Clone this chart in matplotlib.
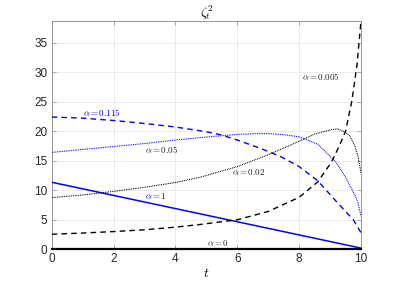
import matplotlib
matplotlib.use("Agg")
import matplotlib.pyplot as plt

# values
t_a0 = [0, 10]
y_a0 = [0, 0]

t_a1 = [0, 2, 4, 6, 8, 10]
y_a1 = [11.35, 9.12, 6.89, 4.66, 2.43, 0.2]

t_a005 = [0, 1, 2, 3, 4, 4.8, 6, 7, 8, 8.6, 9.05, 9.3, 9.5, 9.7, 9.87, 10]
y_a005 = [2.55, 2.75, 3.0, 3.3, 3.75, 4.2, 5.0, 6.4, 8.8, 11.4, 14.8, 17.5, 20.0, 25.0, 31.2, 38.7]

t_a02 = [0, 1, 2, 3, 4, 4.8, 6, 7, 8, 8.5, 9, 9.25, 9.5, 9.65, 9.8, 9.9, 10]
y_a02 = [8.75, 9.2, 9.8, 10.5, 11.3, 12.2, 14.0, 16.0, 18.3, 19.5, 20.2, 20.4, 19.8, 19.1, 17.5, 15.8, 12.9]

t_a05 = [0, 1, 2, 3, 4, 5, 6, 6.75, 7, 7.5, 8, 8.6, 9.2, 9.5, 9.65, 9.8, 9.9, 10]
y_a05 = [16.4, 16.9, 17.4, 17.9, 18.5, 19.0, 19.45, 19.6, 19.6, 19.4, 19.05, 17.8, 14.7, 12.2, 10.7, 9.2, 7.9, 5.6]

t_a115 = [0, 1, 2, 3, 4, 5, 5.45, 6, 6.74, 7.4, 8, 8.6, 9.2, 9.75, 10]
y_a115 = [22.4, 22.2, 21.8, 21.3, 20.7, 19.9, 19.4, 18.5, 17.1, 15.7, 14.0, 11.6, 8.1, 5.0, 2.8]

labels = [r"$\alpha = 0.115$", r"$\alpha = 0.05$", r"$\alpha = 1$",
          r"$\alpha = 0.02$", r"$\alpha = 0$", r"$\alpha = 0.005$"]
label_t = [1.02, 3.0, 3.0, 5.83, 5.02, 8.09]
label_y = [23.1, 16.95, 9.0, 13.15, 1.0, 29.25]
label_c = ["#0000ff", "#222222", "#0000ff", "#222222", "#222222", "#222222"]

BLUE = "#0000ff"


def main() -> None:
    plt.rcParams.update({
        "font.family": "Liberation Sans",
        "mathtext.fontset": "cm",
        "font.size": 8,
    })
    fig = plt.figure(figsize=(3.99, 2.82), dpi=100)
    ax = fig.add_axes([0.1296, 0.116, 0.7752, 0.8106])

    ax.plot(t_a1, y_a1, color=BLUE, lw=1.1, zorder=3)
    ax.plot(t_a115, y_a115, color=BLUE, lw=1.0, ls=(0, (4, 3)), zorder=3)
    ax.plot(t_a05, y_a05, color=BLUE, lw=0.8, ls=(0, (0.8, 0.8)), zorder=3)
    ax.plot(t_a005, y_a005, color="black", lw=1.0, ls=(0, (4, 3)), zorder=3)
    ax.plot(t_a02, y_a02, color="black", lw=0.8, ls=(0, (0.8, 0.8)), zorder=3)
    ax.plot(t_a0, y_a0, color="black", lw=1.6, clip_on=False, zorder=4)

    for txt, x, y, c in zip(labels, label_t, label_y, label_c):
        ax.text(x, y, txt, color=c, fontsize=6.5, ha="left", va="center")

    ax.set_xlim(0, 10)
    ax.set_ylim(0, 38.7)
    ax.set_xticks([0, 2, 4, 6, 8, 10])
    ax.set_yticks([0, 5, 10, 15, 20, 25, 30, 35])
    ax.grid(True, color="#e4e4e4", lw=0.5)
    ax.set_axisbelow(True)
    ax.tick_params(direction="in", length=3, width=0.5, colors="#888888",
                   labelcolor="#262626", labelsize=8.5, top=True, right=True, pad=3)
    for s in ax.spines.values():
        s.set_color("#888888")
        s.set_linewidth(0.6)

    ax.set_title(r"$\zeta_t^2$", fontsize=9.5, pad=3)
    ax.set_xlabel(r"$t$", fontsize=9.5, labelpad=1)

    fig.savefig("out.png", dpi=100)


if __name__ == "__main__":
    main()
